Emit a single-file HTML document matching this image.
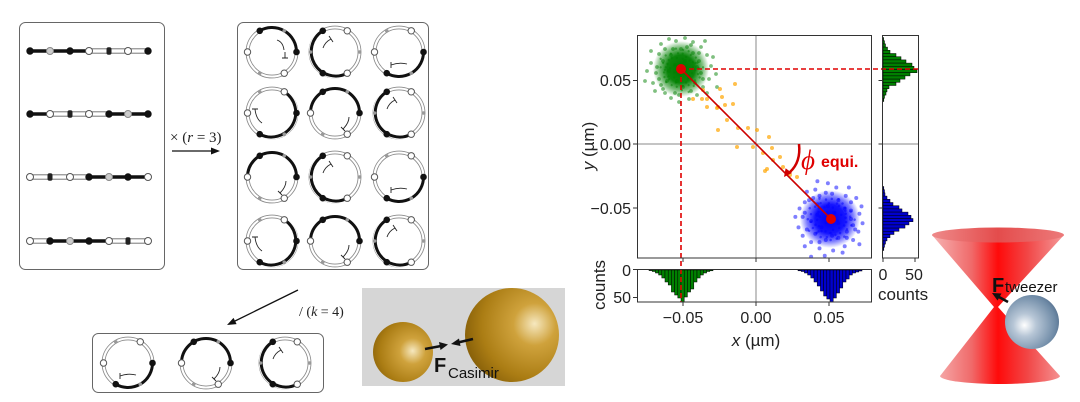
<!DOCTYPE html>
<html><head><meta charset="utf-8">
<style>
html,body{margin:0;padding:0;background:#fff;}
svg{display:block;}
text{font-family:"Liberation Sans",Arial,sans-serif;}
.serif{font-family:"Liberation Serif","Times New Roman",serif;}
</style></head>
<body>
<svg width="1080" height="402" viewBox="0 0 1080 402" xmlns="http://www.w3.org/2000/svg" xmlns:xlink="http://www.w3.org/1999/xlink">
<defs>
 <clipPath id="cm"><rect x="638" y="36" width="233" height="222"/></clipPath>
 <radialGradient id="gs" cx="0.66" cy="0.5" r="0.72" fx="0.66" fy="0.48">
  <stop offset="0" stop-color="#f6e8bf"/><stop offset="0.3" stop-color="#cfa23c"/><stop offset="0.75" stop-color="#ab7d14"/><stop offset="1" stop-color="#8a620a"/>
 </radialGradient>
 <radialGradient id="gl" cx="0.74" cy="0.4" r="0.75" fx="0.74" fy="0.38">
  <stop offset="0" stop-color="#f6e8bf"/><stop offset="0.3" stop-color="#cfa23c"/><stop offset="0.75" stop-color="#ab7d14"/><stop offset="1" stop-color="#8a620a"/>
 </radialGradient>
 <radialGradient id="bs" cx="0.38" cy="0.55" r="0.7" fx="0.36" fy="0.56">
  <stop offset="0" stop-color="#ffffff"/><stop offset="0.3" stop-color="#b7c6d6"/><stop offset="0.8" stop-color="#6e8aa6"/><stop offset="1" stop-color="#4d6785"/>
 </radialGradient>
 <radialGradient id="gG">
  <stop offset="0" stop-color="#007a00" stop-opacity="1"/><stop offset="0.5" stop-color="#008000" stop-opacity="0.95"/><stop offset="0.78" stop-color="#008000" stop-opacity="0.5"/><stop offset="1" stop-color="#008000" stop-opacity="0"/>
 </radialGradient>
 <radialGradient id="gB">
  <stop offset="0" stop-color="#0000f0" stop-opacity="1"/><stop offset="0.5" stop-color="#0000ff" stop-opacity="0.92"/><stop offset="0.78" stop-color="#0000ff" stop-opacity="0.5"/><stop offset="1" stop-color="#0000ff" stop-opacity="0"/>
 </radialGradient>
 <linearGradient id="cone" gradientUnits="userSpaceOnUse" x1="932" y1="0" x2="1064" y2="0">
  <stop offset="0" stop-color="#f6b4b4"/><stop offset="0.3" stop-color="#f06a6a"/><stop offset="0.5" stop-color="#ff0a0a"/><stop offset="0.72" stop-color="#f24545"/><stop offset="1" stop-color="#f49a9a"/>
 </linearGradient>
 <linearGradient id="top" gradientUnits="userSpaceOnUse" x1="932" y1="0" x2="1064" y2="0">
  <stop offset="0" stop-color="#ee8a8a"/><stop offset="0.5" stop-color="#e44c4c"/><stop offset="1" stop-color="#ec7a7a"/>
 </linearGradient>

 <g id="ring">
  <circle cx="0" cy="0" r="24.5" fill="none" stroke="#8a8a8a" stroke-width="3.8"/>
  <circle cx="0" cy="0" r="24.5" fill="none" stroke="#fff" stroke-width="2.1"/>
 </g>
 <g id="P1">
  <use xlink:href="#ring" href="#ring"/>
  <path d="M24.5,0 A24.5,24.5 0 0 0 -12.25,-21.2" fill="none" stroke="#fff" stroke-width="4.6"/>
  <path d="M24.5,0 A24.5,24.5 0 0 0 -12.25,-21.2" fill="none" stroke="#111" stroke-width="3"/>
  <circle cx="-12.25" cy="-21.2" r="3.3" fill="#111"/><circle cx="24.5" cy="0" r="3.3" fill="#111"/>
  <circle cx="-24.5" cy="0" r="3.2" fill="#fff" stroke="#555"/><circle cx="12.25" cy="21.2" r="3.2" fill="#fff" stroke="#555"/>
  <circle cx="-12.25" cy="21.2" r="1.8" fill="#999"/><circle cx="12.25" cy="-21.2" r="1.8" fill="#999"/>
  <path d="M10,6 L16,6 M13,6 L13,0 M12,-2 Q11,-10 5,-12" fill="none" stroke="#222" stroke-width="0.9"/>
 </g>
 <g id="P2">
  <use xlink:href="#ring" href="#ring"/>
  <path d="M-12.25,-21.2 A24.5,24.5 0 0 0 12.25,21.2" fill="none" stroke="#fff" stroke-width="4.6"/>
  <path d="M-12.25,-21.2 A24.5,24.5 0 0 0 12.25,21.2" fill="none" stroke="#111" stroke-width="3"/>
  <circle cx="-12.25" cy="-21.2" r="3.3" fill="#111"/><circle cx="-12.25" cy="21.2" r="3.3" fill="#111"/>
  <circle cx="12.25" cy="-21.2" r="3.2" fill="#fff" stroke="#555"/><circle cx="12.25" cy="21.2" r="3.2" fill="#fff" stroke="#555"/>
  <circle cx="-24.5" cy="0" r="1.8" fill="#999"/><circle cx="24.5" cy="0" r="1.8" fill="#999"/>
  <path d="M-6,-16 L-2,-10 M-4,-13 Q-10,-10 -12,-4" fill="none" stroke="#222" stroke-width="0.9"/>
 </g>
 <g id="P3">
  <use xlink:href="#ring" href="#ring"/>
  <path d="M-12.25,21.2 A24.5,24.5 0 0 0 24.5,0" fill="none" stroke="#fff" stroke-width="4.6"/>
  <path d="M-12.25,21.2 A24.5,24.5 0 0 0 24.5,0" fill="none" stroke="#111" stroke-width="3"/>
  <circle cx="24.5" cy="0" r="3.3" fill="#111"/><circle cx="-12.25" cy="21.2" r="3.3" fill="#111"/>
  <circle cx="12.25" cy="-21.2" r="3.2" fill="#fff" stroke="#555"/><circle cx="-24.5" cy="0" r="3.2" fill="#fff" stroke="#555"/>
  <circle cx="-12.25" cy="-21.2" r="1.8" fill="#999"/><circle cx="12.25" cy="21.2" r="1.8" fill="#999"/>
  <path d="M-8,10 L-8,16 M-8,13 Q0,10 8,12" fill="none" stroke="#222" stroke-width="0.9"/>
 </g>
 <g id="P4">
  <use xlink:href="#ring" href="#ring"/>
  <path d="M-12.25,21.2 A24.5,24.5 0 0 0 12.25,-21.2" fill="none" stroke="#fff" stroke-width="4.6"/>
  <path d="M-12.25,21.2 A24.5,24.5 0 0 0 12.25,-21.2" fill="none" stroke="#111" stroke-width="3"/>
  <circle cx="24.5" cy="0" r="3.3" fill="#111"/><circle cx="-12.25" cy="21.2" r="3.3" fill="#111"/>
  <circle cx="12.25" cy="-21.2" r="3.2" fill="#fff" stroke="#555"/><circle cx="-24.5" cy="0" r="3.2" fill="#fff" stroke="#555"/>
  <circle cx="-12.25" cy="-21.2" r="1.8" fill="#999"/><circle cx="12.25" cy="21.2" r="1.8" fill="#999"/>
  <path d="M-20,-4 L-14,-4 M-17,-4 Q-16,6 -10,10" fill="none" stroke="#222" stroke-width="0.9"/>
 </g>
 <g id="P5">
  <use xlink:href="#ring" href="#ring"/>
  <path d="M24.5,0 A24.5,24.5 0 0 0 -24.5,0" fill="none" stroke="#fff" stroke-width="4.6"/>
  <path d="M24.5,0 A24.5,24.5 0 0 0 -24.5,0" fill="none" stroke="#111" stroke-width="3"/>
  <circle cx="-12.25" cy="-21.2" r="3.3" fill="#111"/><circle cx="24.5" cy="0" r="3.3" fill="#111"/>
  <circle cx="-24.5" cy="0" r="3.2" fill="#fff" stroke="#555"/><circle cx="12.25" cy="21.2" r="3.2" fill="#fff" stroke="#555"/>
  <circle cx="-12.25" cy="21.2" r="1.8" fill="#999"/><circle cx="12.25" cy="-21.2" r="1.8" fill="#999"/>
  <path d="M6,14 L10,18 M8,16 Q14,10 14,4" fill="none" stroke="#222" stroke-width="0.9"/>
 </g>

 <g id="dots">
  <circle cx="-30" cy="-6" r="1.9"/><circle cx="-25" cy="4" r="1.9"/><circle cx="-22" cy="-15" r="1.9"/><circle cx="-18" cy="20" r="1.9"/>
  <circle cx="-28" cy="14" r="1.9"/><circle cx="-20" cy="-25" r="1.9"/><circle cx="-12" cy="-30" r="1.9"/><circle cx="-5" cy="-28" r="1.9"/>
  <circle cx="4" cy="-31" r="1.9"/><circle cx="12" cy="-27" r="1.9"/><circle cx="20" cy="-22" r="1.9"/><circle cx="26" cy="-14" r="1.9"/>
  <circle cx="30" cy="-3" r="1.9"/><circle cx="28" cy="10" r="1.9"/><circle cx="22" cy="18" r="1.9"/><circle cx="16" cy="26" r="1.9"/>
  <circle cx="8" cy="30" r="1.9"/><circle cx="-2" cy="33" r="1.9"/><circle cx="-10" cy="29" r="1.9"/><circle cx="-16" cy="24" r="1.9"/>
  <circle cx="-34" cy="2" r="1.9"/><circle cx="-24" cy="-2" r="1.9"/><circle cx="35" cy="5" r="1.9"/><circle cx="18" cy="-8" r="1.9"/>
  <circle cx="-14" cy="12" r="1.9"/><circle cx="10" cy="22" r="1.9"/><circle cx="-8" cy="-20" r="1.9"/><circle cx="24" cy="-28" r="1.9"/>
  <circle cx="-26" cy="22" r="1.9"/><circle cx="6" cy="-22" r="1.9"/><circle cx="14" cy="14" r="1.9"/><circle cx="-18" cy="-8" r="1.9"/>
  <circle cx="32" cy="-12" r="1.9"/><circle cx="-6" cy="24" r="1.9"/><circle cx="2" cy="18" r="1.9"/><circle cx="20" cy="4" r="1.9"/>
  <circle cx="-22" cy="10" r="1.9"/><circle cx="-10" cy="-14" r="1.9"/><circle cx="12" cy="-16" r="1.9"/><circle cx="26" cy="24" r="1.9"/>
  <circle cx="-30" cy="-18" r="1.9"/><circle cx="0" cy="-20" r="1.9"/><circle cx="-4" cy="12" r="1.9"/><circle cx="8" cy="8" r="1.9"/>
  <circle cx="-12" cy="2" r="1.9"/><circle cx="16" cy="-2" r="1.9"/><circle cx="4" cy="-8" r="1.9"/><circle cx="-6" cy="-4" r="1.9"/>
  <circle cx="36" cy="18" r="1.9"/><circle cx="-36" cy="12" r="1.9"/><circle cx="-16" cy="-20" r="1.9"/><circle cx="18" cy="-16" r="1.9"/>
  <circle cx="22" cy="10" r="1.9"/><circle cx="-20" cy="16" r="1.9"/><circle cx="-2" cy="26" r="1.9"/><circle cx="10" cy="-24" r="1.9"/>
 </g>
</defs>

<!-- Left panel boxes -->
<rect x="19.5" y="22.5" width="145" height="247" rx="6" fill="none" stroke="#666" stroke-width="1"/>
<rect x="237.5" y="22.5" width="191" height="247" rx="6" fill="none" stroke="#666" stroke-width="1"/>
<rect x="92.5" y="333.5" width="231" height="59" rx="6" fill="none" stroke="#666" stroke-width="1"/>

<!-- chains -->
<g>
 <line x1="30" y1="51" x2="89" y2="51" stroke="#111" stroke-width="3.4"/>
 <rect x="89" y="48.8" width="59" height="4.4" fill="#fff" stroke="#777" stroke-width="1"/>
 <circle cx="30" cy="51" r="3.7" fill="#111"/><circle cx="50" cy="51" r="3.5" fill="#ccc" stroke="#888"/>
 <circle cx="70" cy="51" r="3.7" fill="#111"/><circle cx="89" cy="51" r="3.5" fill="#fff" stroke="#555"/>
 <rect x="106.5" y="47.3" width="5" height="7.4" rx="2" fill="#222"/><circle cx="128" cy="51" r="3.5" fill="#fff" stroke="#555"/>
 <circle cx="148" cy="51" r="3.7" fill="#111"/>

 <line x1="30" y1="114" x2="50" y2="114" stroke="#111" stroke-width="3.4"/>
 <rect x="50" y="111.8" width="59" height="4.4" fill="#fff" stroke="#777" stroke-width="1"/>
 <line x1="109" y1="114" x2="148" y2="114" stroke="#111" stroke-width="3.4"/>
 <circle cx="30" cy="114" r="3.7" fill="#111"/><circle cx="50" cy="114" r="3.5" fill="#fff" stroke="#555"/>
 <rect x="67.5" y="110.3" width="5" height="7.4" rx="2" fill="#222"/><circle cx="89" cy="114" r="3.5" fill="#fff" stroke="#555"/>
 <circle cx="109" cy="114" r="3.7" fill="#111"/><circle cx="128" cy="114" r="3.5" fill="#ccc" stroke="#888"/>
 <circle cx="148" cy="114" r="3.7" fill="#111"/>

 <rect x="30" y="174.8" width="59" height="4.4" fill="#fff" stroke="#777" stroke-width="1"/>
 <line x1="89" y1="177" x2="148" y2="177" stroke="#111" stroke-width="3.4"/>
 <circle cx="30" cy="177" r="3.5" fill="#fff" stroke="#555"/><rect x="47.5" y="173.3" width="5" height="7.4" rx="2" fill="#222"/>
 <circle cx="70" cy="177" r="3.5" fill="#fff" stroke="#555"/><circle cx="89" cy="177" r="3.7" fill="#111"/>
 <circle cx="109" cy="177" r="3.5" fill="#ccc" stroke="#888"/><circle cx="128" cy="177" r="3.7" fill="#111"/>
 <circle cx="148" cy="177" r="3.5" fill="#fff" stroke="#555"/>

 <rect x="30" y="238.8" width="20" height="4.4" fill="#fff" stroke="#777" stroke-width="1"/>
 <line x1="50" y1="241" x2="109" y2="241" stroke="#111" stroke-width="3.4"/>
 <rect x="109" y="238.8" width="39" height="4.4" fill="#fff" stroke="#777" stroke-width="1"/>
 <circle cx="30" cy="241" r="3.5" fill="#fff" stroke="#555"/><circle cx="50" cy="241" r="3.7" fill="#111"/>
 <circle cx="70" cy="241" r="3.5" fill="#ccc" stroke="#888"/><circle cx="89" cy="241" r="3.7" fill="#111"/>
 <circle cx="109" cy="241" r="3.5" fill="#fff" stroke="#555"/><rect x="125.5" y="237.3" width="5" height="7.4" rx="2" fill="#222"/>
 <circle cx="148" cy="241" r="3.5" fill="#fff" stroke="#555"/>
</g>

<!-- circles grid -->
<use xlink:href="#P1" href="#P1" x="272" y="52"/>
<use xlink:href="#P2" href="#P2" x="335" y="52"/>
<use xlink:href="#P3" href="#P3" x="399" y="52"/>
<use xlink:href="#P4" href="#P4" x="272" y="113"/>
<use xlink:href="#P5" href="#P5" x="335" y="113"/>
<use xlink:href="#P2" href="#P2" x="399" y="113"/>
<use xlink:href="#P5" href="#P5" x="272" y="177"/>
<use xlink:href="#P2" href="#P2" x="335" y="177"/>
<use xlink:href="#P3" href="#P3" x="399" y="177"/>
<use xlink:href="#P4" href="#P4" x="272" y="241"/>
<use xlink:href="#P5" href="#P5" x="335" y="241"/>
<use xlink:href="#P2" href="#P2" x="399" y="241"/>
<use xlink:href="#P3" href="#P3" x="128" y="363"/>
<use xlink:href="#P5" href="#P5" x="206" y="363"/>
<use xlink:href="#P2" href="#P2" x="285" y="363"/>

<!-- arrows & labels -->
<text class="serif" x="170" y="142" font-size="15" fill="#222">× (<tspan font-style="italic">r</tspan> = 3)</text>
<line x1="172" y1="151" x2="213" y2="151" stroke="#111" stroke-width="1.3"/>
<polygon points="220,151 211,147.5 211,154.5" fill="#111"/>
<line x1="298" y1="290" x2="234" y2="321.5" stroke="#111" stroke-width="1.3"/>
<polygon points="227,325 236.6,324.1 233.5,317.9" fill="#111"/>
<text class="serif" x="299" y="316" font-size="14" fill="#222">/ (<tspan font-style="italic">k</tspan> = 4)</text>

<!-- Casimir panel -->
<rect x="362" y="288" width="203" height="98" fill="#d6d6d6"/>
<circle cx="403" cy="352" r="30" fill="url(#gs)"/>
<circle cx="512" cy="335" r="47" fill="url(#gl)"/>
<line x1="425" y1="349" x2="441" y2="346" stroke="#111" stroke-width="2.6"/>
<polygon points="448,344.5 439,342 440.5,350" fill="#111"/>
<line x1="473" y1="339" x2="458" y2="342.5" stroke="#111" stroke-width="2.6"/>
<polygon points="451,344 459,338.5 460.5,346" fill="#111"/>
<text x="434" y="372" font-size="20" font-weight="bold" fill="#111">F</text>
<text x="448" y="378" font-size="15" fill="#111">Casimir</text>

<!-- Scatter main -->
<g clip-path="url(#cm)">
 <ellipse cx="681" cy="69" rx="28" ry="28" fill="url(#gG)"/>
 <ellipse cx="830" cy="219" rx="30" ry="29" fill="url(#gB)"/>
 <use xlink:href="#dots" href="#dots" transform="translate(681,69)" fill="#008000" fill-opacity="0.5"/>
 <use xlink:href="#dots" href="#dots" transform="translate(681,69) rotate(45) scale(0.6)" fill="#008000" fill-opacity="0.5"/>
 <use xlink:href="#dots" href="#dots" transform="translate(830,219) rotate(90) scale(1.05)" fill="#0000ff" fill-opacity="0.5"/>
 <use xlink:href="#dots" href="#dots" transform="translate(830,219) rotate(200) scale(0.65)" fill="#0000ff" fill-opacity="0.5"/>
</g>
<!-- grid lines -->
<line x1="756" y1="36" x2="756" y2="258" stroke="#888" stroke-width="1"/>
<line x1="638" y1="144" x2="872" y2="144" stroke="#888" stroke-width="1"/>
<line x1="883" y1="144" x2="919" y2="144" stroke="#888" stroke-width="1"/>
<line x1="756" y1="270" x2="756" y2="302" stroke="#888" stroke-width="1"/>

<!-- histograms -->
<g stroke="#000" stroke-width="0.5" fill="#008000">
 <rect x="883" y="37.5" width="0.6" height="3.2"/><rect x="883" y="40.7" width="1.5" height="3.2"/><rect x="883" y="43.9" width="2.5" height="3.2"/>
 <rect x="883" y="47.1" width="4.5" height="3.2"/><rect x="883" y="50.3" width="7" height="3.2"/><rect x="883" y="53.5" width="13" height="3.2"/>
 <rect x="883" y="56.7" width="18" height="3.2"/><rect x="883" y="59.9" width="23" height="3.2"/><rect x="883" y="63.1" width="29" height="3.2"/>
 <rect x="883" y="66.3" width="31" height="3.2"/><rect x="883" y="69.5" width="34" height="3.2"/><rect x="883" y="72.7" width="27" height="3.2"/>
 <rect x="883" y="75.9" width="22" height="3.2"/><rect x="883" y="79.1" width="17" height="3.2"/><rect x="883" y="82.3" width="13" height="3.2"/>
 <rect x="883" y="85.5" width="6" height="3.2"/><rect x="883" y="88.7" width="4" height="3.2"/><rect x="883" y="91.9" width="3" height="3.2"/>
 <rect x="883" y="95.1" width="1.5" height="3.2"/><rect x="883" y="98.3" width="0.8" height="3.2"/>

 <rect x="649" y="270" width="3.2" height="0.6"/><rect x="652.2" y="270" width="3.2" height="1.5"/><rect x="655.4" y="270" width="3.2" height="3"/>
 <rect x="658.6" y="270" width="3.2" height="5"/><rect x="661.8" y="270" width="3.2" height="8"/><rect x="665" y="270" width="3.2" height="12"/>
 <rect x="668.2" y="270" width="3.2" height="15"/><rect x="671.4" y="270" width="3.2" height="22"/><rect x="674.6" y="270" width="3.2" height="25"/>
 <rect x="677.8" y="270" width="3.2" height="28"/><rect x="681" y="270" width="3.2" height="32"/><rect x="684.2" y="270" width="3.2" height="27"/>
 <rect x="687.4" y="270" width="3.2" height="22"/><rect x="690.6" y="270" width="3.2" height="19"/><rect x="693.8" y="270" width="3.2" height="12"/>
 <rect x="697" y="270" width="3.2" height="8"/><rect x="700.2" y="270" width="3.2" height="5"/><rect x="703.4" y="270" width="3.2" height="3"/>
 <rect x="706.6" y="270" width="3.2" height="1.5"/><rect x="709.8" y="270" width="3.2" height="0.8"/>
</g>
<g stroke="#000" stroke-width="0.5" fill="#0000cc">
 <rect x="883" y="186.5" width="0.8" height="3.2"/><rect x="883" y="189.7" width="1.5" height="3.2"/><rect x="883" y="192.9" width="2" height="3.2"/>
 <rect x="883" y="196.1" width="4" height="3.2"/><rect x="883" y="199.3" width="7" height="3.2"/><rect x="883" y="202.5" width="10" height="3.2"/>
 <rect x="883" y="205.7" width="16" height="3.2"/><rect x="883" y="208.9" width="19" height="3.2"/><rect x="883" y="212.1" width="25" height="3.2"/>
 <rect x="883" y="215.3" width="28" height="3.2"/><rect x="883" y="218.5" width="30" height="3.2"/><rect x="883" y="221.7" width="26" height="3.2"/>
 <rect x="883" y="224.9" width="22" height="3.2"/><rect x="883" y="228.1" width="16" height="3.2"/><rect x="883" y="231.3" width="11" height="3.2"/>
 <rect x="883" y="234.5" width="7" height="3.2"/><rect x="883" y="237.7" width="4" height="3.2"/><rect x="883" y="240.9" width="2.5" height="3.2"/>
 <rect x="883" y="244.1" width="1.5" height="3.2"/><rect x="883" y="247.3" width="0.8" height="3.2"/>

 <rect x="798" y="270" width="3.2" height="0.8"/><rect x="801.2" y="270" width="3.2" height="1.5"/><rect x="804.4" y="270" width="3.2" height="3"/>
 <rect x="807.6" y="270" width="3.2" height="5"/><rect x="810.8" y="270" width="3.2" height="8"/><rect x="814" y="270" width="3.2" height="12"/>
 <rect x="817.2" y="270" width="3.2" height="16"/><rect x="820.4" y="270" width="3.2" height="21"/><rect x="823.6" y="270" width="3.2" height="26"/>
 <rect x="826.8" y="270" width="3.2" height="29"/><rect x="830" y="270" width="3.2" height="32"/><rect x="833.2" y="270" width="3.2" height="28"/>
 <rect x="836.4" y="270" width="3.2" height="23"/><rect x="839.6" y="270" width="3.2" height="18"/><rect x="842.8" y="270" width="3.2" height="12"/>
 <rect x="846" y="270" width="3.2" height="9"/><rect x="849.2" y="270" width="3.2" height="5"/><rect x="852.4" y="270" width="3.2" height="3"/>
 <rect x="855.6" y="270" width="3.2" height="2"/><rect x="858.8" y="270" width="3.2" height="1"/>
</g>

<!-- orange points -->
<g fill="#ffa500" fill-opacity="0.7">
 <circle cx="735" cy="84" r="2"/><circle cx="720" cy="89" r="2"/><circle cx="702" cy="99" r="2"/><circle cx="693" cy="99" r="2"/>
 <circle cx="722" cy="97" r="2"/><circle cx="718" cy="107" r="2"/><circle cx="733" cy="104" r="2"/><circle cx="727" cy="120" r="2"/>
 <circle cx="718" cy="130" r="2"/><circle cx="738" cy="128" r="2"/><circle cx="748" cy="128" r="2"/><circle cx="757" cy="130" r="2"/>
 <circle cx="769" cy="137" r="2"/><circle cx="737" cy="147" r="2"/><circle cx="753" cy="147" r="2"/><circle cx="772" cy="148" r="2"/>
 <circle cx="763" cy="153" r="2"/><circle cx="780" cy="157" r="2"/><circle cx="773" cy="160" r="2"/><circle cx="767" cy="169" r="2"/>
 <circle cx="765" cy="171" r="2"/><circle cx="797" cy="177" r="2"/><circle cx="790" cy="175" r="2"/><circle cx="783" cy="167" r="2"/>
 <circle cx="703" cy="90" r="2"/><circle cx="707" cy="107" r="2"/><circle cx="707" cy="99" r="2"/><circle cx="725" cy="105" r="2"/>
 <circle cx="717" cy="108" r="2"/>
</g>

<!-- red line & dashed -->
<line x1="681" y1="69" x2="831" y2="219" stroke="#cc0000" stroke-width="1.6"/>
<line x1="681" y1="69" x2="919" y2="69" stroke="#e00000" stroke-width="1.6" stroke-dasharray="5,3"/>
<line x1="681" y1="69" x2="681" y2="302" stroke="#e00000" stroke-width="1.6" stroke-dasharray="5,3"/>
<circle cx="681" cy="69" r="5" fill="#e00000"/>
<circle cx="831" cy="219" r="5" fill="#e00000"/>
<path d="M799,144 Q801,162 790,172" fill="none" stroke="#d00000" stroke-width="2.5"/>
<polygon points="784,177 792,173 785.6,168.2" fill="#d00000"/>
<text class="serif" x="801" y="169" font-size="27" font-style="italic" fill="#e00000">ϕ</text>
<text x="821" y="167" font-size="16" font-weight="bold" fill="#e00000">equi.</text>

<!-- frames -->
<rect x="637.5" y="35.5" width="234" height="222.5" fill="none" stroke="#333" stroke-width="1"/>
<rect x="882.5" y="35.5" width="36" height="222.5" fill="none" stroke="#333" stroke-width="1"/>
<rect x="637.5" y="269.5" width="234" height="32.5" fill="none" stroke="#333" stroke-width="1"/>
<g stroke="#333" stroke-width="1">
 <line x1="633" y1="80.5" x2="637.5" y2="80.5"/><line x1="633" y1="144" x2="637.5" y2="144"/><line x1="633" y1="208" x2="637.5" y2="208"/>
 <line x1="878.5" y1="80.5" x2="882.5" y2="80.5"/><line x1="878.5" y1="144" x2="882.5" y2="144"/><line x1="878.5" y1="208" x2="882.5" y2="208"/>
 <line x1="683" y1="258" x2="683" y2="262"/><line x1="756" y1="258" x2="756" y2="262"/><line x1="829" y1="258" x2="829" y2="262"/>
 <line x1="683" y1="302" x2="683" y2="306"/><line x1="756" y1="302" x2="756" y2="306"/><line x1="829" y1="302" x2="829" y2="306"/>
 <line x1="633" y1="269.5" x2="637.5" y2="269.5"/><line x1="633" y1="297.5" x2="637.5" y2="297.5"/>
 <line x1="883" y1="258" x2="883" y2="262"/><line x1="915" y1="258" x2="915" y2="262"/>
</g>
<g font-size="16" fill="#222">
 <text x="631" y="86" text-anchor="end">0.05</text>
 <text x="631" y="150" text-anchor="end">0.00</text>
 <text x="631" y="214" text-anchor="end">−0.05</text>
 <text x="631" y="276" text-anchor="end">0</text>
 <text x="631" y="303" text-anchor="end">50</text>
 <text x="683" y="323" text-anchor="middle">−0.05</text>
 <text x="756" y="323" text-anchor="middle">0.00</text>
 <text x="829" y="323" text-anchor="middle">0.05</text>
 <text x="883" y="280" text-anchor="middle">0</text>
 <text x="914" y="280" text-anchor="middle">50</text>
</g>
<text x="878" y="300" font-size="17" fill="#222">counts</text>
<text x="756" y="346" font-size="17" fill="#222" text-anchor="middle"><tspan font-style="italic">x</tspan> (µm)</text>
<text transform="translate(594,146) rotate(-90)" font-size="17" fill="#222" text-anchor="middle"><tspan font-style="italic">y</tspan> (µm)</text>
<text transform="translate(605,285) rotate(-90)" font-size="17" fill="#222" text-anchor="middle">counts</text>

<!-- Tweezer -->
<path d="M932,235 L1064,235 L998,307 L994,307 Z" fill="url(#cone)"/>
<path d="M994,307 L998,307 L1060,376 A60,8 0 0 1 940,376 Z" fill="url(#cone)"/>
<ellipse cx="998" cy="235" rx="66" ry="7.5" fill="url(#top)"/>
<circle cx="1032" cy="322" r="27" fill="url(#bs)"/>
<line x1="1008" y1="302" x2="999" y2="297" stroke="#111" stroke-width="2.6"/>
<polygon points="992,293 1001.5,293.5 997.5,300.5" fill="#111"/>
<text x="992" y="292" font-size="20" font-weight="bold" fill="#111">F</text>
<text x="1005" y="292" font-size="15" fill="#111">tweezer</text>
</svg>
</body></html>
